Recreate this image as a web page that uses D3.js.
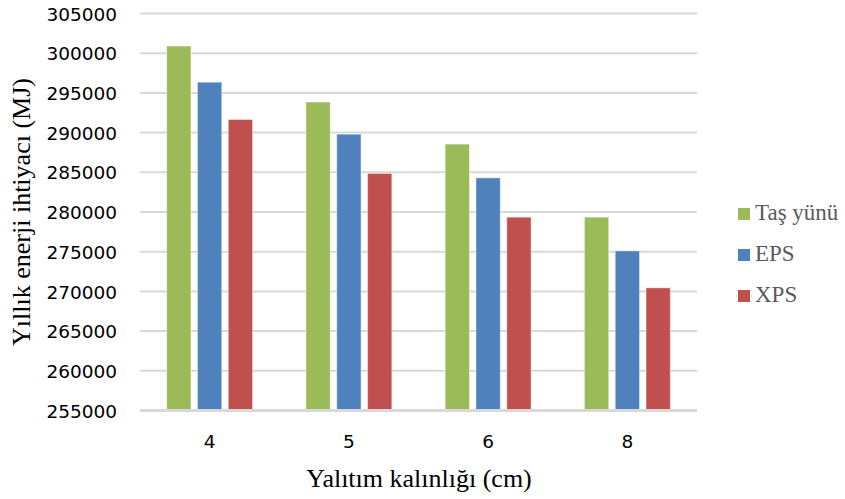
<!DOCTYPE html>
<html>
<head>
<meta charset="utf-8">
<script src="https://cdn.jsdelivr.net/npm/d3@7"></script>
<style>
  html, body { margin: 0; padding: 0; background: #fff; }
  svg { display: block; }
</style>
</head>
<body>
<svg id="chart" width="845" height="499"></svg>
<script>
const categories = ["4", "5", "6", "8"];
const seriesNames = ["Taş yünü", "EPS", "XPS"];
const tasYunu = [300900, 293850, 288550, 279350];
const eps = [296350, 289800, 284300, 275100];
const xps = [291650, 284850, 279350, 270450];
const yTicks = [255000, 260000, 265000, 270000, 275000, 280000, 285000, 290000, 295000, 300000, 305000];
const colors = ["#9BBB59", "#4F81BD", "#C0504D"];

const seriesValues = [tasYunu, eps, xps];
const data = categories.map((c, i) => ({
  cat: c,
  vals: seriesNames.map((s, j) => ({ key: s, value: seriesValues[j][i], color: colors[j] }))
}));

const svg = d3.select("#chart");
const plotLeft = 140, plotRight = 697, plotTop = 13.5, plotBottom = 410.5;

const y = d3.scaleLinear().domain([255000, 305000]).range([plotBottom, plotTop]);
const x0 = d3.scaleBand().domain(categories).range([plotLeft, plotRight]).paddingInner(0.383).paddingOuter(0.1915);
const x1 = d3.scaleBand().domain(seriesNames).range([0, x0.bandwidth()]).paddingInner(0.211).paddingOuter(0);

// gridlines
svg.append("g").selectAll("line").data(yTicks.filter(t => t !== 255000)).join("line")
  .attr("x1", plotLeft).attr("x2", plotRight)
  .attr("y1", d => y(d)).attr("y2", d => y(d))
  .attr("stroke", "#d9d9d9").attr("stroke-width", 2);

// y axis labels
const yAxis = d3.axisLeft(y).tickValues(yTicks).tickSize(0).tickPadding(0).tickFormat(d3.format("d"));
const yg = svg.append("g").attr("transform", `translate(117,0)`).call(yAxis);
yg.select(".domain").remove();
yg.selectAll("text").attr("font-family", "DejaVu Sans").attr("font-size", "18.5px").attr("fill", "#000").attr("dy", "0.36em");

// bars
const groups = svg.append("g").selectAll("g").data(data).join("g")
  .attr("transform", d => `translate(${x0(d.cat)},0)`);
groups.selectAll("rect").data(d => d.vals).join("rect")
  .attr("x", d => x1(d.key))
  .attr("width", x1.bandwidth())
  .attr("y", d => y(d.value))
  .attr("height", d => plotBottom - y(d.value))
  .attr("fill", d => d.color)
  .attr("stroke", "#ffffff").attr("stroke-opacity", 0.45).attr("stroke-width", 1);

// x axis
const xAxis = d3.axisBottom(x0).tickSize(0).tickPadding(0);
const xg = svg.append("g").attr("transform", `translate(0,${plotBottom})`).call(xAxis);
xg.select(".domain").remove();
xg.selectAll("text").attr("font-family", "DejaVu Sans").attr("font-size", "18.5px").attr("fill", "#000").attr("dy", "37.5px");
svg.append("line").attr("x1", plotLeft).attr("x2", plotRight).attr("y1", plotBottom).attr("y2", plotBottom)
  .attr("stroke", "#d9d9d9").attr("stroke-width", 3);

// axis titles
svg.append("text").attr("x", 419).attr("y", 487).attr("text-anchor", "middle")
  .attr("font-family", "Liberation Serif").attr("font-size", "26px").attr("fill", "#000")
  .text("Yalıtım kalınlığı (cm)");
svg.append("text").attr("transform", "translate(30,212) rotate(-90)").attr("text-anchor", "middle")
  .attr("font-family", "Liberation Serif").attr("font-size", "26px").attr("fill", "#000")
  .text("Yıllık enerji ihtiyacı (MJ)");

// legend
const legend = svg.append("g").selectAll("g").data(seriesNames).join("g")
  .attr("transform", (d, i) => `translate(738,${220 + i * 41})`);
legend.append("rect").attr("x", 0).attr("y", -12).attr("width", 12).attr("height", 12)
  .attr("fill", (d, i) => colors[i]);
legend.append("text").attr("x", 17).attr("y", 0)
  .attr("font-family", "Liberation Serif").attr("font-size", "23px").attr("fill", "#595959")
  .text(d => d);
</script>
</body>
</html>
